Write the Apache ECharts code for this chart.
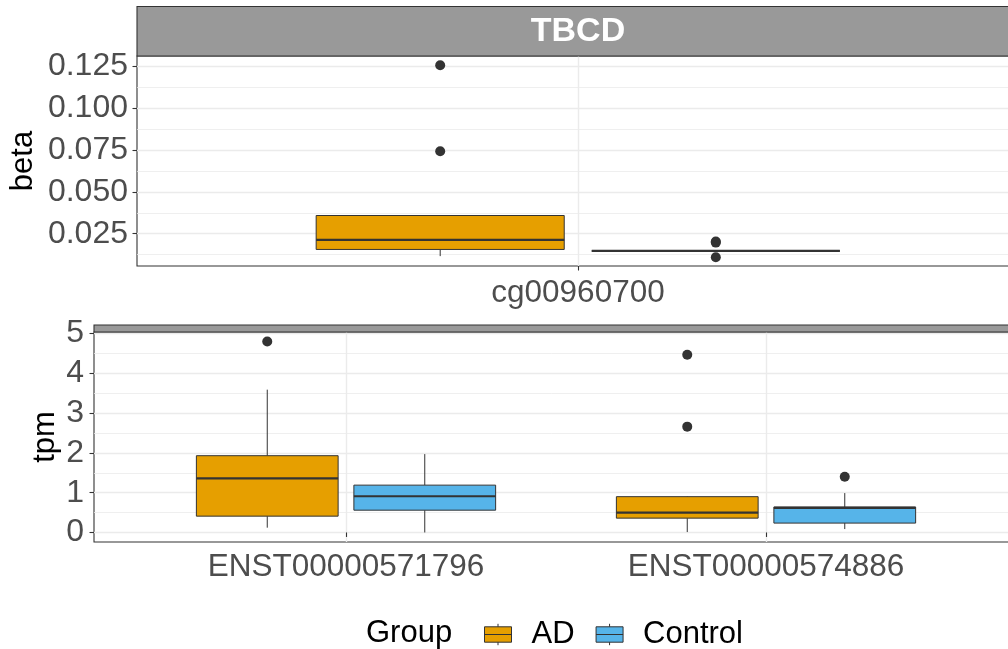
<!DOCTYPE html>
<html>
<head>
<meta charset="utf-8">
<script src="https://cdn.jsdelivr.net/npm/echarts@6/dist/echarts.min.js"></script>
<style>
  html, body { margin: 0; padding: 0; background: #ffffff; }
  #chart { width: 1008px; height: 649px; }
</style>
</head>
<body>
<div id="chart"></div>
<script>
// ---- data -------------------------------------------------------------
const gene = 'TBCD';
const groups = ['AD', 'Control'];
const groupColors = ['#E69F00', '#56B4E9'];

// methylation panel (beta values)
const betaCategories = ['cg00960700'];
const betaTicks = [0.025, 0.05, 0.075, 0.1, 0.125];
const betaMinorTicks = [0.0125, 0.0375, 0.0625, 0.0875, 0.1125];
// per category: [lower whisker, Q1, median, Q3, upper whisker]
const betaAD = [[0.0116, 0.0156, 0.0213, 0.0359, 0.0362]];
const betaControl = [[0.0147, 0.0147, 0.0147, 0.0147, 0.0147]];
// outliers: [category index, value]
const betaOutliersAD = [[0, 0.1258], [0, 0.0743]];
const betaOutliersControl = [[0, 0.0203], [0, 0.0197], [0, 0.0109]];

// expression panel (tpm)
const tpmCategories = ['ENST00000571796', 'ENST00000574886'];
const tpmTicks = [0, 1, 2, 3, 4, 5];
const tpmMinorTicks = [0.5, 1.5, 2.5, 3.5, 4.5];
const tpmAD = [[0.12, 0.41, 1.36, 1.93, 3.59], [0.01, 0.36, 0.50, 0.90, 0.91]];
const tpmControl = [[0.00, 0.56, 0.91, 1.19, 1.97], [0.085, 0.235, 0.62, 0.64, 0.99]];
const tpmOutliersAD = [[0, 4.80], [1, 4.47], [1, 2.66]];
const tpmOutliersControl = [[1, 1.40]];

// ---- layout constants -------------------------------------------------
const FONT = '"Liberation Sans", Arial, Helvetica, sans-serif';
const DODGE = 0.1875;      // group offset from the category centre (axis units)
const HALF_BOX = 0.16875;  // half the box width (axis units)
const INK = '#333333';
const GRID_MAJOR = '#ebebeb';

const panels = [
  { cats: betaCategories, ticks: betaTicks, minor: betaMinorTicks,
    stats: [betaAD, betaControl], outliers: [betaOutliersAD, betaOutliersControl],
    grid: { left: 137, top: 56, width: 882, height: 210 },
    yMin: 0.0057, yMax: 0.1313, yName: 'beta', yNameGap: 98,
    fmt: v => v.toFixed(3), xMargin: 11, yMargin: 9 },
  { cats: tpmCategories, ticks: tpmTicks, minor: tpmMinorTicks,
    stats: [tpmAD, tpmControl], outliers: [tpmOutliersAD, tpmOutliersControl],
    grid: { left: 94, top: 332, width: 924, height: 210 },
    yMin: -0.24, yMax: 5.04, yName: 'tpm', yNameGap: 33,
    fmt: v => String(v), xMargin: 9, yMargin: 10 }
];

// ---- box drawing ------------------------------------------------------
function renderBox(params, api) {
  const x = api.value(0);
  const lo = api.value(1), q1 = api.value(2), med = api.value(3), q3 = api.value(4), hi = api.value(5);
  const pl = api.coord([x - HALF_BOX, med]);
  const pr = api.coord([x + HALF_BOX, med]);
  const c = api.coord([x, med]);
  const yLo = api.coord([x, lo])[1];
  const yQ1 = api.coord([x, q1])[1];
  const yQ3 = api.coord([x, q3])[1];
  const yHi = api.coord([x, hi])[1];
  const fill = api.visual('color');
  const whisker = { stroke: INK, lineWidth: 1 };
  return {
    type: 'group',
    children: [
      { type: 'line', shape: { x1: c[0], y1: yQ3, x2: c[0], y2: yHi }, style: whisker },
      { type: 'line', shape: { x1: c[0], y1: yQ1, x2: c[0], y2: yLo }, style: whisker },
      { type: 'rect', shape: { x: pl[0], y: yQ3, width: pr[0] - pl[0], height: yQ1 - yQ3 },
        style: { fill: fill, stroke: INK, lineWidth: 1 } },
      { type: 'line', shape: { x1: pl[0], y1: c[1], x2: pr[0], y2: c[1] },
        style: { stroke: INK, lineWidth: 2.2 } }
    ]
  };
}

const grids = [], xAxes = [], yAxes = [], series = [];

panels.forEach((p, gi) => {
  grids.push(Object.assign({ show: true, backgroundColor: '#ffffff', borderColor: INK,
    borderWidth: 1.1, outerBoundsMode: 'none', containLabel: false }, p.grid));

  const catPos = p.cats.map((_, i) => i + 1);
  xAxes.push({
    type: 'value', gridIndex: gi, min: 0.4, max: p.cats.length + 0.6,
    axisLine: { show: false },
    axisTick: { show: true, customValues: catPos, length: 4.5, lineStyle: { color: INK, width: 1.1 } },
    axisLabel: { show: true, customValues: catPos, margin: p.xMargin,
      formatter: v => p.cats[Math.round(v) - 1] || '',
      fontSize: 31.5, color: '#4d4d4d', fontFamily: FONT },
    splitLine: { show: true, lineStyle: { color: GRID_MAJOR, width: 1.4 } }
  });

  // major ticks, labels and grid lines
  yAxes.push({
    type: 'value', gridIndex: gi, position: 'left', min: p.yMin, max: p.yMax,
    name: p.yName, nameLocation: 'middle', nameGap: p.yNameGap, nameMoveOverlap: false,
    nameTextStyle: { fontSize: 31, color: '#000000', fontFamily: FONT },
    axisLine: { show: false },
    axisTick: { show: true, customValues: p.ticks, length: 4.5, lineStyle: { color: INK, width: 1.1 } },
    axisLabel: { show: true, customValues: p.ticks, margin: p.yMargin, formatter: p.fmt,
      fontSize: 32, color: '#4d4d4d', fontFamily: FONT },
    splitLine: { show: true, lineStyle: { color: GRID_MAJOR, width: 1.4 } }
  });
  // minor grid lines
  yAxes.push({
    type: 'value', gridIndex: gi, position: 'right', min: p.yMin, max: p.yMax,
    axisLine: { show: false },
    axisTick: { show: false, customValues: p.minor },
    axisLabel: { show: false },
    splitLine: { show: true, lineStyle: { color: GRID_MAJOR, width: 0.8 } }
  });

  const xIdx = gi, yIdx = gi * 2;
  groups.forEach((g, k) => {
    const shift = k === 0 ? -DODGE : DODGE;
    series.push({
      type: 'custom', name: g, xAxisIndex: xIdx, yAxisIndex: yIdx,
      itemStyle: { color: groupColors[k] },
      encode: { x: 0, y: [1, 2, 3, 4, 5] },
      renderItem: renderBox, z: 3,
      data: p.stats[k].map((s, i) => [i + 1 + shift].concat(s))
    });
  });
  groups.forEach((g, k) => {
    const shift = k === 0 ? -DODGE : DODGE;
    series.push({
      type: 'scatter', name: g, xAxisIndex: xIdx, yAxisIndex: yIdx,
      symbol: 'circle', symbolSize: 10, z: 4,
      itemStyle: { color: INK, opacity: 1 },
      data: p.outliers[k].map(o => [o[0] + 1 + shift, o[1]])
    });
  });
});

const chart = echarts.init(document.getElementById('chart'), null, { renderer: 'canvas' });
chart.setOption({
  animation: false,
  backgroundColor: '#ffffff',
  textStyle: { fontFamily: FONT },
  title: {
    text: 'Group', left: 366, top: 618, padding: 0,
    textStyle: { fontSize: 31, fontWeight: 'normal', color: '#000000', fontFamily: FONT }
  },
  legend: {
    left: 484, top: 619, padding: 0, itemWidth: 27, itemHeight: 21.4, itemGap: 21,
    selectedMode: false,
    icon: 'path://M0,3H27V18.4H0Z M0,10.7H27 M13.5,0V3 M13.5,18.4V21.4',
    data: groups.map((g, i) => ({ name: g,
      itemStyle: { color: groupColors[i], borderColor: INK, borderWidth: 1 } })),
    textStyle: { fontSize: 31, color: '#000000', fontFamily: FONT, padding: [0, 0, 0, 15] }
  },
  grid: grids,
  xAxis: xAxes,
  yAxis: yAxes,
  series: series,
  graphic: [
    { type: 'rect', z: 20, shape: { x: 137, y: 6.5, width: 900, height: 49.5 },
      style: { fill: '#999999', stroke: INK, lineWidth: 1.1 } },
    { type: 'text', z: 21, x: 578, y: 31.5,
      style: { text: gene, fill: '#ffffff', font: 'bold 34px ' + FONT,
        align: 'center', verticalAlign: 'middle' } },
    { type: 'rect', z: 20, shape: { x: 94, y: 325, width: 940, height: 7 },
      style: { fill: '#999999', stroke: INK, lineWidth: 1.1 } }
  ]
});
</script>
</body>
</html>
